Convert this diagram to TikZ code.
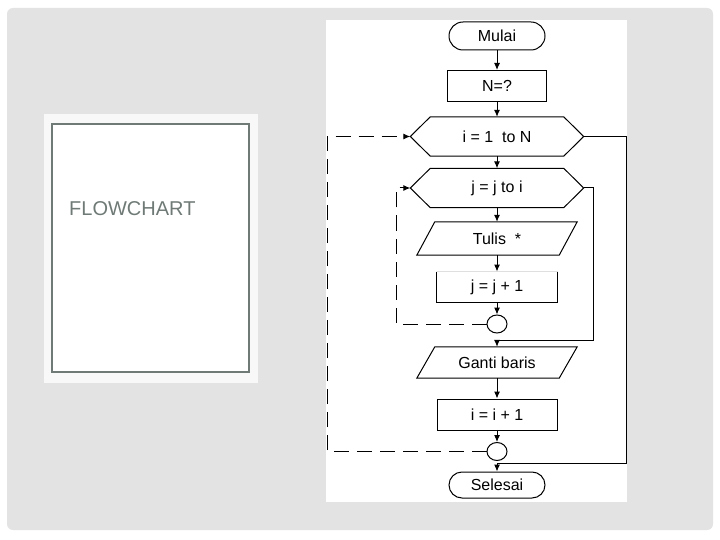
\documentclass[tikz,border=0pt]{standalone}
\usepackage{fontspec}
\setmainfont{Liberation Sans}
\usetikzlibrary{arrows.meta,calc,positioning,shapes.misc,shapes.geometric}
\definecolor{slidegray}{HTML}{E3E3E3}
\definecolor{framegray}{HTML}{6F7A76}
\definecolor{panelwhite}{HTML}{F8F8F8}

\begin{document}
\begin{tikzpicture}[x=1pt, y=-1pt,
            flowtext/.style={font=\fontsize{16}{19}\selectfont, text=black},
            line/.style={draw=black, line width=1pt},
            flow/.style={line, -{Latex[length=7pt,width=6pt]}},
            back/.style={flow, dash pattern=on 15pt off 8pt},
            terminal/.style={flowtext, rounded rectangle, line, minimum width=96pt, minimum height=28pt, inner sep=0pt},
            process/.style={flowtext, rectangle, line, minimum width=99pt, minimum height=31pt, inner sep=0pt},
            loopbox/.style={flowtext, rectangle, minimum width=173pt, minimum height=39pt, inner sep=0pt},
            iobox/.style={flowtext, rectangle, minimum width=160pt, minimum height=32pt, inner sep=0pt},
            joint/.style={ellipse, line, minimum width=20pt, minimum height=18pt, inner sep=0pt}]
            \useasboundingbox (0,0) rectangle (720,540);
            % slide
            \fill[white] (0,0) rectangle (720,540);
            \fill[slidegray, rounded corners=6pt] (7,8) rectangle (713,530);
            \fill[panelwhite] (44,114) rectangle (258,383);
            \draw[framegray, fill=white, line width=1.2pt] (52,124) rectangle (249,372);
            \node (title) [anchor=base west, text=framegray, font=\fontsize{20}{24}\selectfont, inner sep=0pt] at (69,215) {FLOWCHART};
            \fill[white] (326,20) rectangle (627,502);
            % flowchart
            \node (mulai) [terminal] at (497,36) {Mulai};
            \node (n) [process] at (497,86) {N=?};
            \node (iloop) [loopbox] at (497,136.5) {i = 1\ \ to N};
            \node (jloop) [loopbox] at (497,188) {j = j to i};
            \node (tulis) [iobox, minimum height=33pt] at (497,238.5) {Tulis\ \ *};
            \node (jinc) [process, draw=none, minimum width=120pt, minimum height=30pt] at (497,287) {j = j + 1};
            \node (jend) [joint] at (497,324) {};
            \node (ganti) [iobox, minimum height=31pt] at (497,362.5) {Ganti baris};
            \node (iinc) [process, minimum width=120pt] at (497,414.5) {i = i + 1};
            \node (iend) [joint] at (497,451.5) {};
            \node (selesai) [terminal, minimum height=26pt] at (497,485) {Selesai};
            % outlines
            \foreach \h in {iloop,jloop}
                \draw[line] (\h.west) -- ($(\h.north west)+(20,0)$) -- ($(\h.north east)+(-20,0)$) -- (\h.east)
                    -- ($(\h.south east)+(-20,0)$) -- ($(\h.south west)+(20,0)$) -- cycle;
            \foreach \p in {tulis,ganti}
                \draw[line] (\p.south west) -- ($(\p.north west)+(18,0)$) -- (\p.north east)
                    -- ($(\p.south east)+(-18,0)$) -- cycle;
            \draw[line] (jinc.north west) -- (jinc.south west) -- (jinc.south east) -- (jinc.north east);
            \draw[gray!25, line width=1pt] (jinc.north west) -- (jinc.north east);
            % connectors
            \coordinate (jright) at (593,340);
            \coordinate (jexit) at (497,340);
            \coordinate (iright) at (626,463);
            \coordinate (iexit) at (497,463);
            \coordinate (jback) at (396,324);
            \coordinate (iback) at (327,451.5);
            \draw[flow] (mulai) -- (n);
            \draw[flow] (n) -- (iloop);
            \draw[flow] (iloop) -- (jloop);
            \draw[flow] (jloop) -- (tulis);
            \draw[flow] (tulis) -- (jinc);
            \draw[flow] (jinc) -- (jend);
            \draw[flow] (ganti) -- (iinc);
            \draw[flow] (iinc) -- (iend);
            \draw[flow] (jloop.east) -| (jright) -- (jexit) -- (ganti);
            \draw[flow] (iloop.east) -| (iright) -- (iexit) -- (selesai);
            \draw[back] (jend.west) -- (jback) |- (jloop.west);
            \draw[back] (iend.west) -- (iback) |- (iloop.west);
        \end{tikzpicture}
\end{document}
